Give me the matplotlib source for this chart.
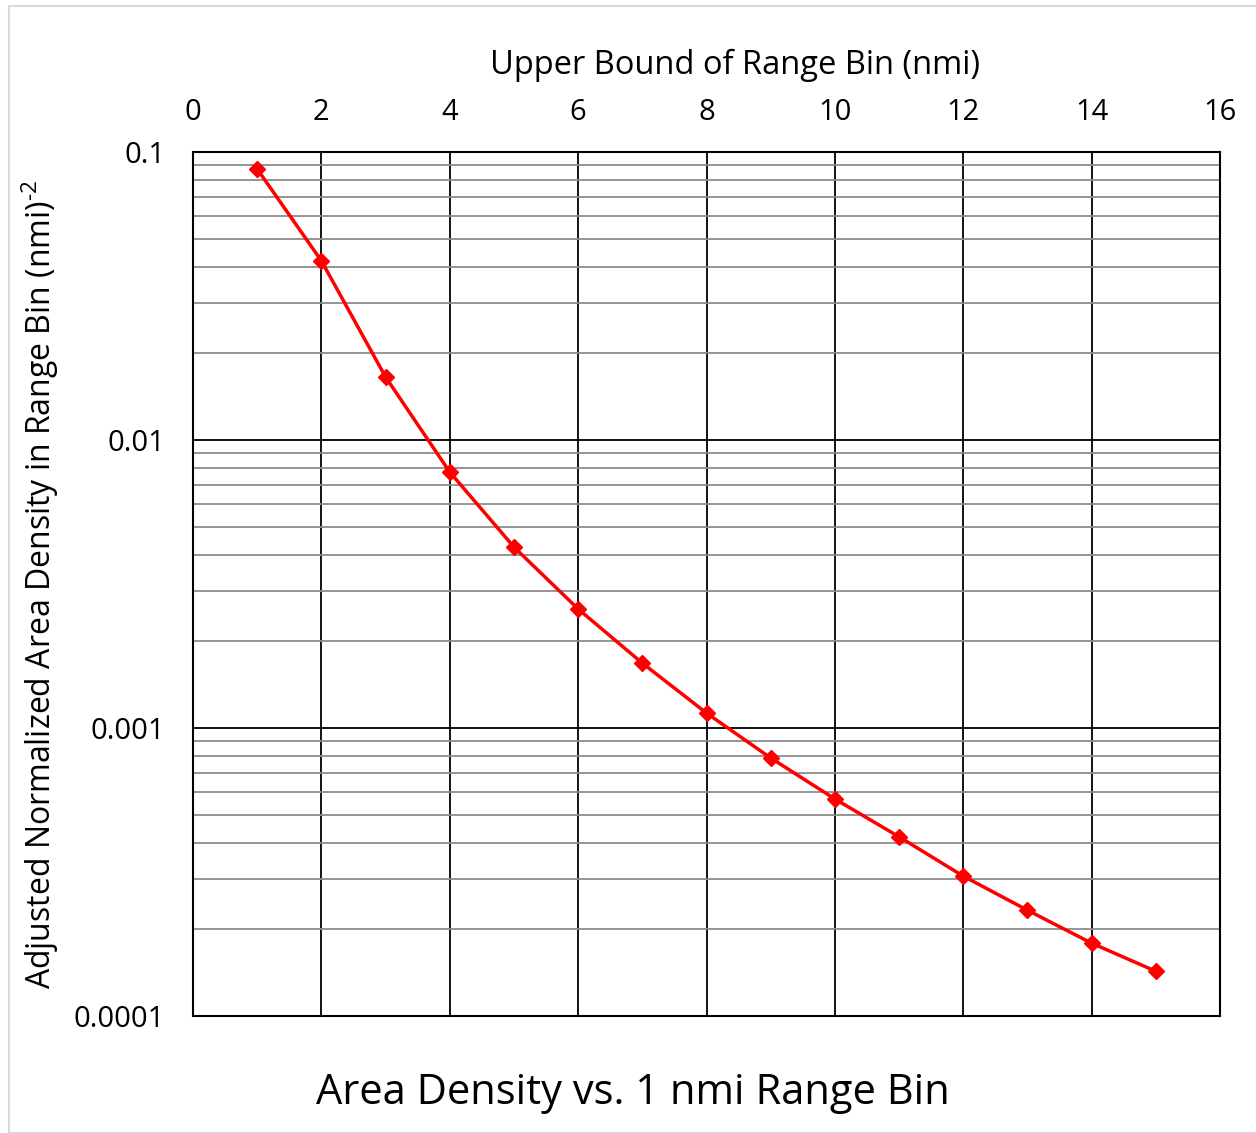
import matplotlib.pyplot as plt
from matplotlib.patches import Rectangle
from matplotlib.ticker import LogLocator, FixedLocator, NullFormatter

plt.rcParams['font.family'] = ['Open Sans', 'DejaVu Sans']
plt.rcParams['mathtext.fontset'] = 'custom'
plt.rcParams['mathtext.rm'] = 'Open Sans'

# data
bins = [1, 2, 3, 4, 5, 6, 7, 8, 9, 10, 11, 12, 13, 14, 15]
density = [0.0873, 0.0419, 0.01655, 0.00774, 0.00425, 0.00259, 0.00168,
           0.001127, 0.000787, 0.000567, 0.000419, 0.000306, 0.000233,
           0.000179, 0.000143]
x_ticks = [0, 2, 4, 6, 8, 10, 12, 14, 16]
y_ticks = [0.0001, 0.001, 0.01, 0.1]
y_labels = ['0.0001', '0.001', '0.01', '0.1']

fig = plt.figure(figsize=(12.56, 11.33), dpi=100)
fig.patches.append(Rectangle((9 / 1256, 0), 1.0, 1 - 6 / 1133, transform=fig.transFigure,
                             fill=False, edgecolor='#d9d9d9', linewidth=1.5))
ax = fig.add_axes([193 / 1256, 1 - 1016 / 1133, 1027 / 1256, 864 / 1133])

ax.plot(bins, density, color='#ff0000', linewidth=2.5, marker='D', markersize=8,
        zorder=5, clip_on=False)

ax.set_yscale('log')
ax.set_xlim(0, 16)
ax.set_ylim(0.0001, 0.1)
ax.xaxis.set_major_locator(FixedLocator(x_ticks))
ax.yaxis.set_major_locator(FixedLocator(y_ticks))
ax.set_yticklabels(y_labels)
ax.yaxis.set_minor_locator(LogLocator(base=10, subs=range(2, 10)))
ax.yaxis.set_minor_formatter(NullFormatter())

ax.grid(True, which='major', axis='both', color='black', linewidth=1.3)
ax.grid(True, which='minor', axis='y', color='#8c8c8c', linewidth=1.3)
ax.set_axisbelow(True)
for s in ax.spines.values():
    s.set_linewidth(1.5)
    s.set_color('black')

ax.xaxis.tick_top()
ax.xaxis.set_label_position('top')
ax.tick_params(which='both', length=0, labelsize=21)
ax.tick_params(axis='x', pad=18)
ax.tick_params(axis='y', pad=20)
ax.set_xlabel('Upper Bound of Range Bin (nmi)', fontsize=23.5, labelpad=17)
ax.xaxis.label.set_x(0.528)
ax.set_ylabel('Adjusted Normalized Area Density in Range Bin (nmi)$^{\\text{-}2}$',
              fontsize=23, labelpad=9)

fig.text(633 / 1256, 1 - 1093 / 1133, 'Area Density vs. 1 nmi Range Bin',
         fontsize=30, ha='center', va='center')

fig.savefig('out.png', dpi=100)
